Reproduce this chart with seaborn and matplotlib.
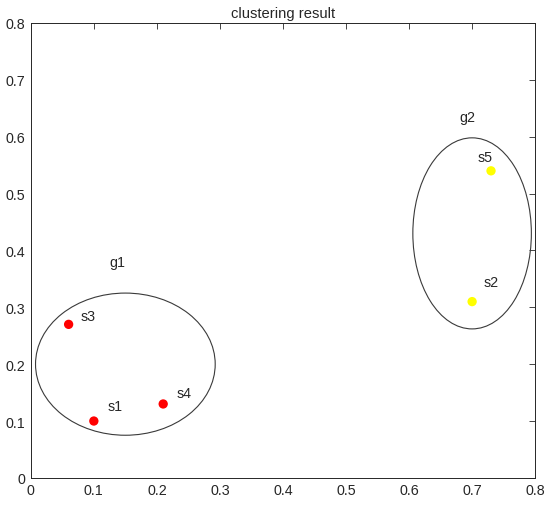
import numpy as np
import pandas as pd
import matplotlib
matplotlib.use("Agg")
import matplotlib.pyplot as plt
from matplotlib.patches import Ellipse
import seaborn as sns

# sample points
names = ["s1", "s2", "s3", "s4", "s5"]
xs = [0.10, 0.70, 0.06, 0.21, 0.73]
ys = [0.10, 0.31, 0.27, 0.13, 0.54]
groups = ["g1", "g2", "g1", "g1", "g2"]

# group ellipses: centre, width, height
grp_names = ["g1", "g2"]
grp_cx = [0.15, 0.70]
grp_cy = [0.20, 0.43]
grp_w = [0.285, 0.188]
grp_h = [0.25, 0.336]

ticks = [0, 0.1, 0.2, 0.3, 0.4, 0.5, 0.6, 0.7, 0.8]
tick_labels = ["0", "0.1", "0.2", "0.3", "0.4", "0.5", "0.6", "0.7", "0.8"]

df = pd.DataFrame({"name": names, "x": xs, "y": ys, "group": groups})

sns.set_style("white")
plt.rcParams["font.family"] = ["Liberation Sans", "DejaVu Sans"]

fig = plt.figure(figsize=(5.5, 5.1), dpi=100)
ax = fig.add_axes([0.056, 0.061, 0.917, 0.892])

for i in range(len(grp_names)):
    e = Ellipse((grp_cx[i], grp_cy[i]), grp_w[i], grp_h[i],
                fill=False, edgecolor="#3a3a3a", linewidth=0.8)
    ax.add_patch(e)

sns.scatterplot(data=df, x="x", y="y", hue="group",
                palette={"g1": "#ff0000", "g2": "#ffff00"},
                s=45, edgecolor="none", legend=False, ax=ax, zorder=3)

# labels next to points
lbl_dx = {"s1": 0.033, "s2": 0.03, "s3": 0.031, "s4": 0.033, "s5": -0.01}
lbl_dy = {"s1": 0.027, "s2": 0.034, "s3": 0.015, "s4": 0.019, "s5": 0.024}
for n, x, y in zip(names, xs, ys):
    ax.text(x + lbl_dx[n], y + lbl_dy[n], n, ha="center", va="center", fontsize=10.3)

# group labels
g_lx = [0.138, 0.693]
g_ly = [0.379, 0.635]
for g, x, y in zip(grp_names, g_lx, g_ly):
    ax.text(x, y, g, ha="center", va="center", fontsize=10.3)

ax.set_xlim(0, 0.8)
ax.set_ylim(0, 0.8)
ax.set_xticks(ticks)
ax.set_xticklabels(tick_labels)
ax.set_yticks(ticks)
ax.set_yticklabels(tick_labels)
ax.tick_params(direction="in", length=4, width=0.6, top=True, right=True,
               labelsize=10.3, colors="#262626", pad=4)
for sp in ax.spines.values():
    sp.set_visible(True)
    sp.set_color("#262626")
    sp.set_linewidth(0.7)
ax.set_xlabel("")
ax.set_ylabel("")
ax.set_title("clustering result", fontsize=10.6, pad=4)

fig.savefig("out.png", dpi=100)
